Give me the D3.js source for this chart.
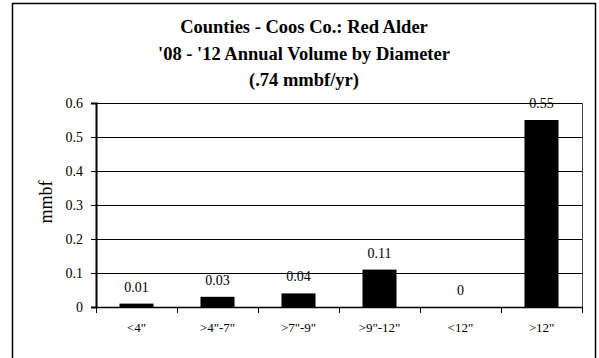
<!DOCTYPE html>
<html><head><meta charset="utf-8">
<script src="https://cdn.jsdelivr.net/npm/d3@7"></script>
<style>body{margin:0;background:#fff}svg{display:block}</style>
</head><body>
<script>
const categories = ['<4"', '>4"-7"', '>7"-9"', '>9"-12"', '<12"', '>12"'];
const values = [0.01, 0.03, 0.04, 0.11, 0, 0.55];
const labels = ["0.01", "0.03", "0.04", "0.11", "0", "0.55"];
const yTicks = [0, 0.1, 0.2, 0.3, 0.4, 0.5, 0.6];
const titleLines = ["Counties - Coos Co.: Red Alder", "'08 - '12 Annual Volume by Diameter", "(.74 mmbf/yr)"];

(function () {
const W = 599, H = 358;
const svg = d3.select("body").append("svg").attr("width", W).attr("height", H)
  .style("font-family", "'Liberation Serif','Times New Roman',serif");

svg.append("rect").attr("x", 12.5).attr("y", 3.5).attr("width", 583).attr("height", 360)
  .attr("fill", "#fff").attr("stroke", "#000").attr("stroke-width", 1.5);

const pL = 96, pR = 582, pT = 103, pB = 307;
const x = d3.scaleBand().domain(categories).range([pL, pR]).paddingInner(0.58).paddingOuter(0.29);
const xb = d3.scaleBand().domain(categories).range([pL, pR]);
const y = d3.scaleLinear().domain([0, 0.6]).range([pB, pT]);

// gridlines
svg.append("g").selectAll("line").data(yTicks.filter(d => d > 0)).join("line")
  .attr("x1", pL).attr("x2", pR).attr("y1", d => Math.round(y(d)) + 0.5).attr("y2", d => Math.round(y(d)) + 0.5)
  .attr("stroke", "#000").attr("stroke-width", 1);
// right border
svg.append("line").attr("x1", pR + 0.5).attr("x2", pR + 0.5).attr("y1", pT).attr("y2", pB)
  .attr("stroke", "#444").attr("stroke-width", 1);

// bars
svg.append("g").selectAll("rect").data(values).join("rect")
  .attr("x", (d, i) => x(categories[i]))
  .attr("width", x.bandwidth())
  .attr("y", d => y(d))
  .attr("height", d => pB - y(d))
  .attr("fill", "#000");

// y axis
const yAxis = svg.append("g").attr("transform", `translate(${pL},0)`)
  .call(d3.axisLeft(y).tickValues(yTicks).tickFormat(d => d === 0 ? "0" : d3.format(".1f")(d)).tickSize(5).tickPadding(8));
yAxis.select(".domain").attr("stroke-width", 2);
yAxis.selectAll("text").attr("font-size", 14).attr("font-family", "'Liberation Serif',serif").attr("fill", "#000");

// x axis
const xAxis = svg.append("g").attr("transform", `translate(0,${pB})`);
xAxis.append("line").attr("x1", pL).attr("x2", pR + 1).attr("y1", 0.5).attr("y2", 0.5).attr("stroke", "#000").attr("stroke-width", 1.5);
const tickXs = categories.map(c => xb(c)).concat([pR]);
xAxis.selectAll("line.t").data(tickXs).join("line").attr("class", "t")
  .attr("x1", d => d + 0.5).attr("x2", d => d + 0.5).attr("y1", 0).attr("y2", 6).attr("stroke", "#000");
xAxis.selectAll("text").data(categories).join("text")
  .attr("x", d => xb(d) + xb.bandwidth() / 2).attr("y", 25)
  .attr("text-anchor", "middle").attr("font-size", 13).text(d => d);

// value labels
svg.append("g").selectAll("text").data(values).join("text")
  .attr("x", (d, i) => x(categories[i]) + x.bandwidth() / 2)
  .attr("y", d => y(d) - 12)
  .attr("text-anchor", "middle").attr("font-size", 14).text((d, i) => labels[i]);

// y label
svg.append("text").attr("transform", "translate(52,202) rotate(-90)")
  .attr("text-anchor", "middle").attr("font-size", 18).text("mmbf");

// title
svg.append("g").selectAll("text").data(titleLines).join("text")
  .attr("x", 304).attr("y", (d, i) => 33 + i * 26.5)
  .attr("text-anchor", "middle").attr("font-size", 18.5).attr("font-weight", "bold").text(d => d);
})();
</script>
</body></html>
